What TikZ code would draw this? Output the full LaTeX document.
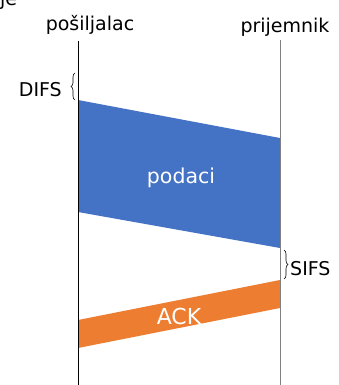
\documentclass[tikz,border=0pt]{standalone}
\usepackage{fontspec}
\setmainfont{DejaVu Sans}
\usepackage{xcolor}
\usetikzlibrary{calc, positioning, decorations.pathreplacing}
\definecolor{podblue}{HTML}{4472C4}
\definecolor{ackorange}{HTML}{ED7D31}
\tikzset{
  station/.style={font=\fontsize{19}{22}\selectfont, inner sep=0pt, anchor=base},
  lifeline/.style={line width=0.8pt},
  framefill/.style={draw=none},
  frametext/.style={text=white, inner sep=0pt},
  ifsbrace/.style={decorate, decoration={brace, amplitude=4pt}, line width=0.6pt},
  ifstext/.style={font=\fontsize{19}{22}\selectfont, inner sep=0pt}
}

\begin{document}
\begin{tikzpicture}[x=1pt, y=-1pt]
  \useasboundingbox (0,0) rectangle (338,385);
  \node[station, anchor=base west] (title) at (0,6) {je};
  \node[station] (snd) at (90,31) {pošiljalac};
  \node[station] (rcv) at (285,33) {prijemnik};
  \coordinate (s0) at (78,41);
  \coordinate (s1) at (78,385);
  \coordinate (r0) at (280,40);
  \coordinate (r1) at (280,385);
  % data frame
  \fill[podblue, framefill] (78,100) -- (280,138) -- (280,248) -- (78,212) -- cycle;
  \node[frametext, font=\fontsize{20.5}{24}\selectfont] (podaci) at (181,178) {podaci};
  % ack frame
  \fill[ackorange, framefill] (78,320) -- (280,280) -- (280,308) -- (78,348) -- cycle;
  \node[frametext, font=\fontsize{22}{26}\selectfont] (ack) at (179,316) {ACK};
  \draw[lifeline] (s0) -- (s1);
  \draw[lifeline, color=gray] (r0) -- (r1);
  % interframe spaces
  \draw[ifsbrace] (75,100) -- (75,73);
  \node[ifstext, anchor=base east] (difs) at (62,97) {DIFS};
  \draw[ifsbrace] (284,250) -- (284,279);
  \node[ifstext, anchor=base west] (sifs) at (290,275) {SIFS};
\end{tikzpicture}
\end{document}
